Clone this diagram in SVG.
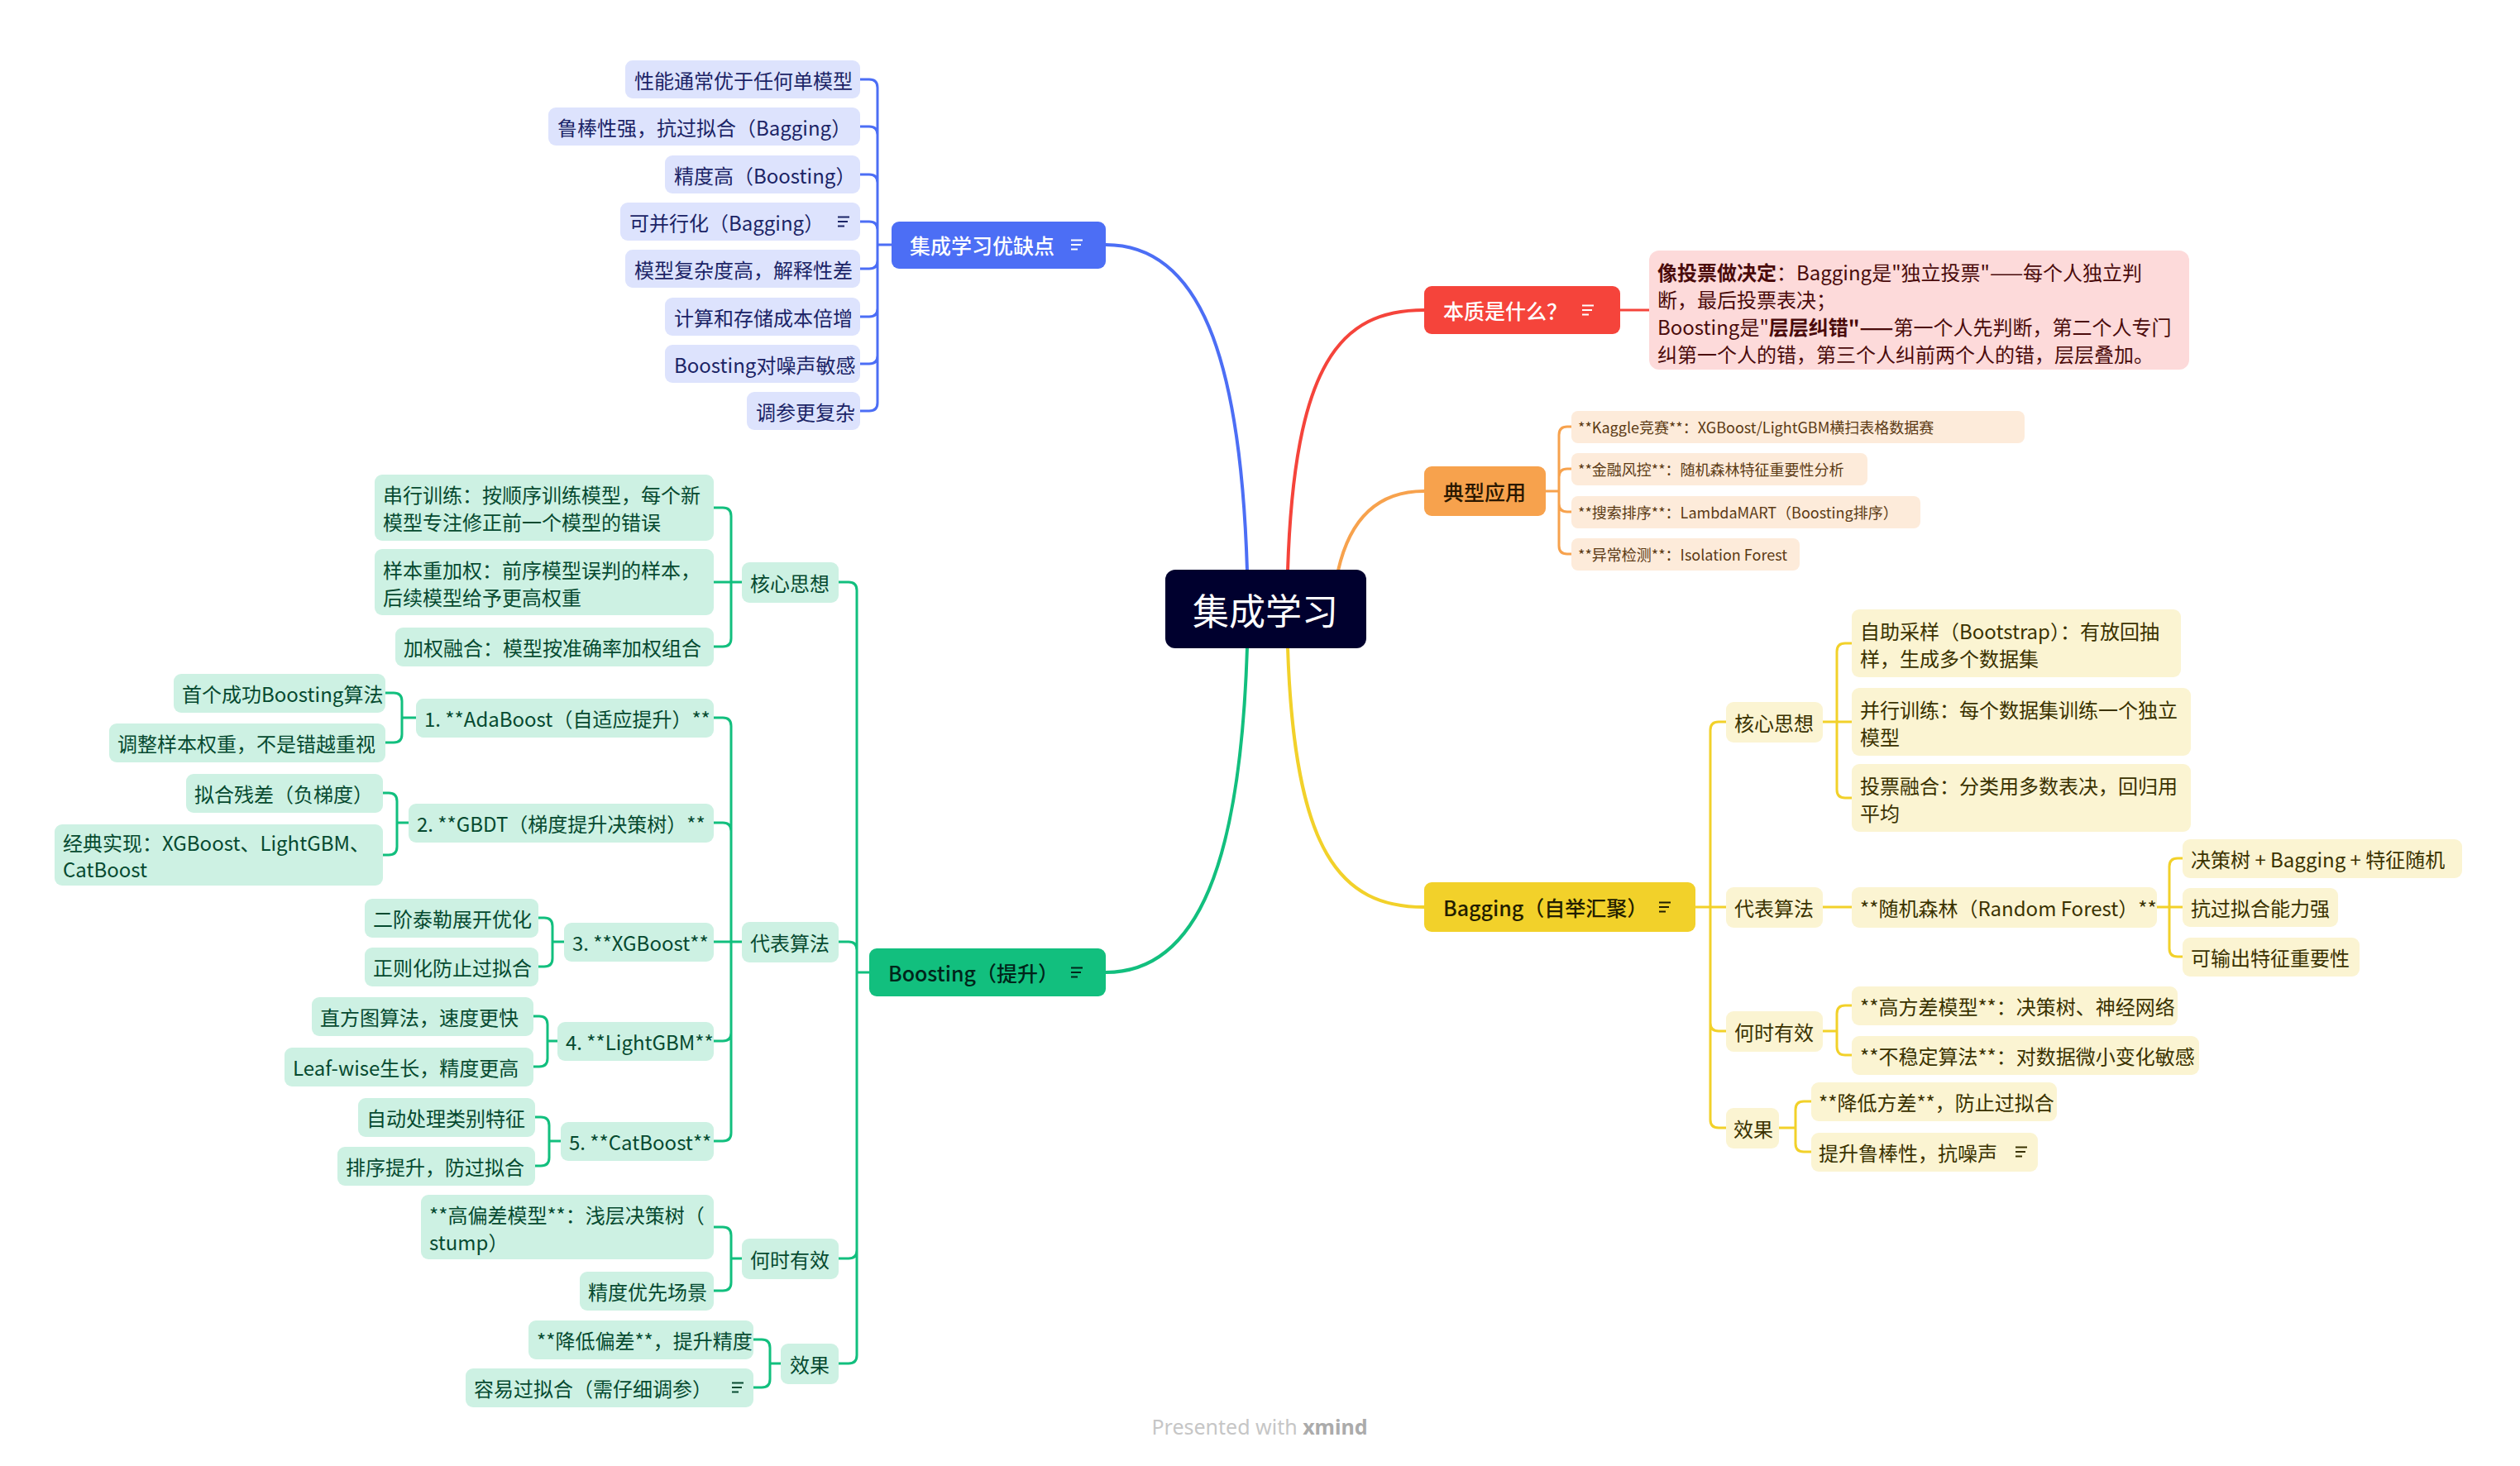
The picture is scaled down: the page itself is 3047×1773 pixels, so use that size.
<svg xmlns="http://www.w3.org/2000/svg" xmlns:xlink="http://www.w3.org/1999/xlink" width="3047" height="1773" viewBox="0 0 3047 1773">
<style>
text{font-family:"Noto Sans CJK SC","Noto Sans",sans-serif;dominant-baseline:central}
.f24{font-size:24px}
.f18{font-size:18px}
.l1{font-size:25px;font-weight:500}
.b{font-weight:700}
.cb{fill:#DDE3FD}.tb{fill:#1B2466}
.cr{fill:#FDDADA}.tr{fill:#4A0B0B}
.co{fill:#FDEBDA}.to{fill:#5B3A14}
.cy{fill:#FBF4D2}.ty{fill:#3A3200}
.cg{fill:#CDF1E3}.tg{fill:#064A30}
.lb{stroke:#4C6EF5}.lr{stroke:#F5443B}.lo{stroke:#F7A24D}.ly{stroke:#F2D12A}.lg{stroke:#12BF7E}
.m{fill:none;stroke-width:4;stroke-linecap:round}
.s{fill:none;stroke-width:3}
</style>
<defs>
<symbol id="note" viewBox="0 0 16 14" overflow="visible"><path d="M1,1.5H15M1,7H13M1,12.5H9" fill="none" stroke="currentColor" stroke-width="2"/></symbol>
</defs>
<rect width="3047" height="1773" fill="#fff"/>

<g id="connectors">
<path class="m lb" d="M1508,690 C1500,430 1450,296 1337,296"/>
<path class="m lr" d="M1557,690 C1565,440 1620,375 1722,375"/>
<path class="m lo" d="M1618,690 C1632,628 1665,594 1722,594"/>
<path class="m lg" d="M1508,783 C1500,1040 1450,1176 1337,1176"/>
<path class="m ly" d="M1557,783 C1565,1030 1620,1097 1722,1097"/>
<g class="s lb">
<path d="M1078,296H1061M1061,296V106Q1061,96 1051,96H1040M1061,296V163Q1061,153 1051,153H1040M1061,296V221Q1061,211 1051,211H1040M1061,296V278Q1061,268 1051,268H1040M1061,296V315Q1061,325 1051,325H1040M1061,296V373Q1061,383 1051,383H1040M1061,296V430Q1061,440 1051,440H1040M1061,296V487Q1061,497 1051,497H1040"/>
</g>
<path class="s lr" d="M1959,375H1994"/>
<path class="s lo" d="M1869,594H1885M1885,594V526Q1885,516 1895,516H1900M1885,594V577Q1885,567 1895,567H1900M1885,594V609Q1885,619 1895,619H1900M1885,594V660Q1885,670 1895,670H1900"/>
<g class="s ly">
<path d="M2050,1097H2068M2068,1097V883Q2068,873 2078,873H2087M2068,1097H2087M2068,1097V1237Q2068,1247 2078,1247H2087M2068,1097V1354Q2068,1364 2078,1364H2087"/>
<path d="M2204,873H2221M2221,873V788Q2221,778 2231,778H2239M2221,873H2239M2221,873V955Q2221,965 2231,965H2239"/>
<path d="M2204,1097H2239"/>
<path d="M2608,1097H2623M2623,1097V1048Q2623,1038 2633,1038H2639M2623,1097H2639M2623,1097V1147Q2623,1157 2633,1157H2639"/>
<path d="M2204,1247H2221M2221,1247V1226Q2221,1216 2231,1216H2239M2221,1247V1266Q2221,1276 2231,1276H2239"/>
<path d="M2151,1364H2171M2171,1364V1342Q2171,1332 2181,1332H2190M2171,1364V1383Q2171,1393 2181,1393H2190"/>
</g>
<g class="s lg">
<path d="M1051,1176H1036M1036,1176V714Q1036,704 1026,704H1014M1036,1176V1149Q1036,1139 1026,1139H1014M1036,1176V1512Q1036,1522 1026,1522H1014M1036,1176V1639Q1036,1649 1026,1649H1014"/>
<path d="M897,704H884M884,704V624Q884,614 874,614H863M884,704H863M884,704V772Q884,782 874,782H863"/>
<path d="M897,1139H884M884,1139V878Q884,868 874,868H863M884,1139V1005Q884,995 874,995H863M884,1139H863M884,1139V1249Q884,1259 874,1259H863M884,1139V1370Q884,1380 874,1380H863"/>
<path d="M503,868H486M486,868V848Q486,838 476,838H466M486,868V888Q486,898 476,898H466"/>
<path d="M494,995H480M480,995V969Q480,959 470,959H463M480,995V1024Q480,1034 470,1034H463"/>
<path d="M682,1139H668M668,1139V1120Q668,1110 658,1110H651M668,1139V1159Q668,1169 658,1169H651"/>
<path d="M674,1259H662M662,1259V1239Q662,1229 652,1229H645M662,1259V1280Q662,1290 652,1290H645"/>
<path d="M678,1380H664M664,1380V1361Q664,1351 654,1351H647M664,1380V1400Q664,1410 654,1410H647"/>
<path d="M897,1522H884M884,1522V1494Q884,1484 874,1484H863M884,1522V1551Q884,1561 874,1561H863"/>
<path d="M944,1649H931M931,1649V1630Q931,1620 921,1620H911M931,1649V1668Q931,1678 921,1678H911"/>
</g>
</g>

<g id="central"><rect x="1409" y="689" width="243" height="95" rx="12" fill="#00002E"/><text x="1530" y="737" font-size="44" fill="#fff" text-anchor="middle">集成学习</text></g>

<g id="pros-cons"><rect x="1078" y="268" width="259" height="57" rx="9" fill="#4C6EF5"/><text class="l1" x="1100" y="296" fill="#fff">集成学习优缺点</text><use href="#note" x="1294" y="289" width="16" height="14" style="color:#fff"/></g>
<g id="pc1"><rect class="cb" x="756" y="73" width="284" height="46" rx="9"/><text class="f24 tb" x="767" y="96">性能通常优于任何单模型</text></g>
<g id="pc2"><rect class="cb" x="663" y="130" width="377" height="46" rx="9"/><text class="f24 tb" x="674" y="153">鲁棒性强，抗过拟合（Bagging）</text></g>
<g id="pc3"><rect class="cb" x="804" y="188" width="236" height="46" rx="9"/><text class="f24 tb" x="815" y="211">精度高（Boosting）</text></g>
<g id="pc4"><rect class="cb" x="750" y="245" width="290" height="46" rx="9"/><text class="f24 tb" x="761" y="268">可并行化（Bagging）</text><use href="#note" x="1012" y="261" width="16" height="14" style="color:#1B2466"/></g>
<g id="pc5"><rect class="cb" x="756" y="302" width="284" height="46" rx="9"/><text class="f24 tb" x="767" y="325">模型复杂度高，解释性差</text></g>
<g id="pc6"><rect class="cb" x="804" y="360" width="236" height="46" rx="9"/><text class="f24 tb" x="815" y="383">计算和存储成本倍增</text></g>
<g id="pc7"><rect class="cb" x="804" y="417" width="236" height="46" rx="9"/><text class="f24 tb" x="815" y="440">Boosting对噪声敏感</text></g>
<g id="pc8"><rect class="cb" x="903" y="474" width="137" height="46" rx="9"/><text class="f24 tb" x="914" y="497">调参更复杂</text></g>

<g id="essence"><rect x="1722" y="346" width="237" height="58" rx="9" fill="#F5443B"/><text class="l1" x="1745" y="375" fill="#fff">本质是什么？</text><use href="#note" x="1912" y="368" width="16" height="14" style="color:#fff"/></g>
<g id="essence-note"><rect class="cr" x="1994" y="303" width="653" height="144" rx="12"/>
<text class="f24 tr" x="2004" y="328"><tspan class="b">像投票做决定</tspan>：Bagging是"独立投票"——每个人独立判</text>
<text class="f24 tr" x="2004" y="361">断，最后投票表决；</text>
<text class="f24 tr" x="2004" y="394">Boosting是"<tspan class="b">层层纠错"——</tspan>第一个人先判断，第二个人专门</text>
<text class="f24 tr" x="2004" y="427">纠第一个人的错，第三个人纠前两个人的错，层层叠加。</text></g>

<g id="apps"><rect x="1722" y="564" width="147" height="60" rx="9" fill="#F7A24D"/><text class="l1" x="1745" y="594" fill="#2A1700">典型应用</text></g>
<g id="app1"><rect class="co" x="1900" y="497" width="548" height="39" rx="8"/><text class="f18 to" x="1908" y="516">**Kaggle竞赛**：XGBoost/LightGBM横扫表格数据赛</text></g>
<g id="app2"><rect class="co" x="1900" y="548" width="358" height="39" rx="8"/><text class="f18 to" x="1908" y="567">**金融风控**：随机森林特征重要性分析</text></g>
<g id="app3"><rect class="co" x="1900" y="600" width="422" height="39" rx="8"/><text class="f18 to" x="1908" y="619">**搜索排序**：LambdaMART（Boosting排序）</text></g>
<g id="app4"><rect class="co" x="1900" y="651" width="276" height="39" rx="8"/><text class="f18 to" x="1908" y="670">**异常检测**：Isolation Forest</text></g>

<g id="bagging"><rect x="1722" y="1067" width="328" height="60" rx="9" fill="#F2D12A"/><text class="l1" x="1745" y="1097" fill="#231E00">Bagging（自举汇聚）</text><use href="#note" x="2005" y="1090" width="16" height="14" style="color:#231E00"/></g>
<g id="bg-core"><rect class="cy" x="2087" y="849" width="117" height="49" rx="9"/><text class="f24 ty" x="2097" y="873">核心思想</text></g>
<g id="bg-algo"><rect class="cy" x="2087" y="1073" width="117" height="49" rx="9"/><text class="f24 ty" x="2097" y="1097">代表算法</text></g>
<g id="bg-when"><rect class="cy" x="2087" y="1223" width="117" height="49" rx="9"/><text class="f24 ty" x="2097" y="1247">何时有效</text></g>
<g id="bg-eff"><rect class="cy" x="2087" y="1340" width="64" height="49" rx="9"/><text class="f24 ty" x="2096" y="1364">效果</text></g>
<g id="bg-core1"><rect class="cy" x="2239" y="737" width="398" height="82" rx="9"/><text class="f24 ty" x="2249" y="762">自助采样（Bootstrap）：有放回抽</text><text class="f24 ty" x="2249" y="795">样，生成多个数据集</text></g>
<g id="bg-core2"><rect class="cy" x="2239" y="832" width="410" height="82" rx="9"/><text class="f24 ty" x="2249" y="857">并行训练：每个数据集训练一个独立</text><text class="f24 ty" x="2249" y="890">模型</text></g>
<g id="bg-core3"><rect class="cy" x="2239" y="924" width="410" height="82" rx="9"/><text class="f24 ty" x="2249" y="949">投票融合：分类用多数表决，回归用</text><text class="f24 ty" x="2249" y="982">平均</text></g>
<g id="bg-rf"><rect class="cy" x="2239" y="1073" width="369" height="49" rx="9"/><text class="f24 ty" x="2249" y="1097">**随机森林（Random Forest）**</text></g>
<g id="bg-rf1"><rect class="cy" x="2639" y="1015" width="338" height="47" rx="9"/><text class="f24 ty" x="2649" y="1038">决策树 + Bagging + 特征随机</text></g>
<g id="bg-rf2"><rect class="cy" x="2639" y="1074" width="188" height="47" rx="9"/><text class="f24 ty" x="2649" y="1097">抗过拟合能力强</text></g>
<g id="bg-rf3"><rect class="cy" x="2639" y="1134" width="214" height="47" rx="9"/><text class="f24 ty" x="2649" y="1157">可输出特征重要性</text></g>
<g id="bg-when1"><rect class="cy" x="2239" y="1193" width="394" height="47" rx="9"/><text class="f24 ty" x="2249" y="1216">**高方差模型**：决策树、神经网络</text></g>
<g id="bg-when2"><rect class="cy" x="2239" y="1253" width="420" height="47" rx="9"/><text class="f24 ty" x="2249" y="1276">**不稳定算法**：对数据微小变化敏感</text></g>
<g id="bg-eff1"><rect class="cy" x="2190" y="1309" width="297" height="47" rx="9"/><text class="f24 ty" x="2199" y="1332">**降低方差**，防止过拟合</text></g>
<g id="bg-eff2"><rect class="cy" x="2190" y="1370" width="274" height="47" rx="9"/><text class="f24 ty" x="2199" y="1393">提升鲁棒性，抗噪声</text><use href="#note" x="2436" y="1386" width="16" height="14" style="color:#3A3200"/></g>

<g id="boosting"><rect x="1051" y="1147" width="286" height="58" rx="9" fill="#12BF7E"/><text class="l1" x="1074" y="1176" fill="#00251A">Boosting（提升）</text><use href="#note" x="1294" y="1169" width="16" height="14" style="color:#00251A"/></g>
<g id="bo-core"><rect class="cg" x="897" y="680" width="117" height="49" rx="9"/><text class="f24 tg" x="907" y="704">核心思想</text></g>
<g id="bo-algo"><rect class="cg" x="897" y="1115" width="117" height="49" rx="9"/><text class="f24 tg" x="907" y="1139">代表算法</text></g>
<g id="bo-when"><rect class="cg" x="897" y="1498" width="117" height="49" rx="9"/><text class="f24 tg" x="907" y="1522">何时有效</text></g>
<g id="bo-eff"><rect class="cg" x="944" y="1625" width="70" height="49" rx="9"/><text class="f24 tg" x="955" y="1649">效果</text></g>
<g id="bo-core1"><rect class="cg" x="453" y="574" width="410" height="80" rx="9"/><text class="f24 tg" x="463" y="597">串行训练：按顺序训练模型，每个新</text><text class="f24 tg" x="463" y="630">模型专注修正前一个模型的错误</text></g>
<g id="bo-core2"><rect class="cg" x="453" y="664" width="410" height="80" rx="9"/><text class="f24 tg" x="463" y="688">样本重加权：前序模型误判的样本，</text><text class="f24 tg" x="463" y="721">后续模型给予更高权重</text></g>
<g id="bo-core3"><rect class="cg" x="478" y="759" width="385" height="47" rx="9"/><text class="f24 tg" x="488" y="782">加权融合：模型按准确率加权组合</text></g>
<g id="bo-ada"><rect class="cg" x="503" y="845" width="360" height="47" rx="9"/><text class="f24 tg" x="513" y="868">1. **AdaBoost（自适应提升）**</text></g>
<g id="bo-gbdt"><rect class="cg" x="494" y="972" width="369" height="47" rx="9"/><text class="f24 tg" x="504" y="995">2. **GBDT（梯度提升决策树）**</text></g>
<g id="bo-xgb"><rect class="cg" x="682" y="1116" width="181" height="47" rx="9"/><text class="f24 tg" x="692" y="1139">3. **XGBoost**</text></g>
<g id="bo-lgb"><rect class="cg" x="674" y="1236" width="189" height="47" rx="9"/><text class="f24 tg" x="684" y="1259">4. **LightGBM**</text></g>
<g id="bo-cat"><rect class="cg" x="678" y="1357" width="185" height="47" rx="9"/><text class="f24 tg" x="688" y="1380">5. **CatBoost**</text></g>
<g id="bo-ada1"><rect class="cg" x="210" y="815" width="256" height="47" rx="9"/><text class="f24 tg" x="220" y="838">首个成功Boosting算法</text></g>
<g id="bo-ada2"><rect class="cg" x="132" y="875" width="334" height="47" rx="9"/><text class="f24 tg" x="142" y="898">调整样本权重，不是错越重视</text></g>
<g id="bo-gbdt1"><rect class="cg" x="225" y="936" width="238" height="47" rx="9"/><text class="f24 tg" x="235" y="959">拟合残差（负梯度）</text></g>
<g id="bo-gbdt2"><rect class="cg" x="66" y="997" width="397" height="74" rx="9"/><text class="f24 tg" x="76" y="1018">经典实现：XGBoost、LightGBM、</text><text class="f24 tg" x="76" y="1050">CatBoost</text></g>
<g id="bo-xgb1"><rect class="cg" x="441" y="1087" width="210" height="47" rx="9"/><text class="f24 tg" x="451" y="1110">二阶泰勒展开优化</text></g>
<g id="bo-xgb2"><rect class="cg" x="441" y="1146" width="210" height="47" rx="9"/><text class="f24 tg" x="451" y="1169">正则化防止过拟合</text></g>
<g id="bo-lgb1"><rect class="cg" x="377" y="1206" width="268" height="47" rx="9"/><text class="f24 tg" x="387" y="1229">直方图算法，速度更快</text></g>
<g id="bo-lgb2"><rect class="cg" x="344" y="1267" width="301" height="47" rx="9"/><text class="f24 tg" x="354" y="1290">Leaf-wise生长，精度更高</text></g>
<g id="bo-cat1"><rect class="cg" x="433" y="1328" width="214" height="47" rx="9"/><text class="f24 tg" x="443" y="1351">自动处理类别特征</text></g>
<g id="bo-cat2"><rect class="cg" x="408" y="1387" width="239" height="47" rx="9"/><text class="f24 tg" x="418" y="1410">排序提升，防过拟合</text></g>
<g id="bo-when1"><rect class="cg" x="509" y="1445" width="354" height="78" rx="9"/><text class="f24 tg" x="519" y="1468">**高偏差模型**：浅层决策树（</text><text class="f24 tg" x="519" y="1501">stump）</text></g>
<g id="bo-when2"><rect class="cg" x="701" y="1538" width="162" height="47" rx="9"/><text class="f24 tg" x="711" y="1561">精度优先场景</text></g>
<g id="bo-eff1"><rect class="cg" x="639" y="1597" width="272" height="47" rx="9"/><text class="f24 tg" x="649" y="1620">**降低偏差**，提升精度</text></g>
<g id="bo-eff2"><rect class="cg" x="563" y="1655" width="348" height="47" rx="9"/><text class="f24 tg" x="573" y="1678">容易过拟合（需仔细调参）</text><use href="#note" x="884" y="1671" width="16" height="14" style="color:#064A30"/></g>

<text x="1523" y="1725" font-size="25" fill="#C6C6C6" text-anchor="middle" style="font-family:'Noto Sans',sans-serif">Presented with <tspan font-weight="700" fill="#ABABAB">xmind</tspan></text>
</svg>
